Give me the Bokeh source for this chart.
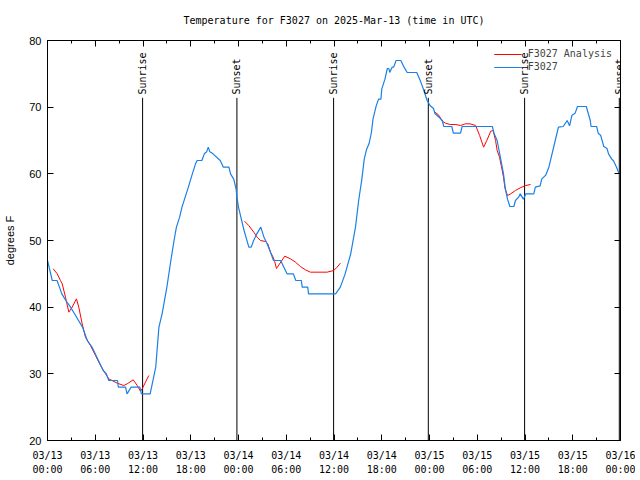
import math
from bokeh.plotting import figure
from bokeh.models import (Range1d, FixedTicker, LinearAxis, Legend, LegendItem, LabelSet,
                          ColumnDataSource, CustomLabelingPolicy)
from bokeh.embed import file_html
from bokeh.resources import INLINE
from bokeh.core.properties import value

NaN = float("nan")

# hours since 2025-03-13 00:00 UTC
obs_hours = [0.0, 0.6, 1.2, 1.5, 1.8, 2.3, 2.9, 3.3, 3.9, 4.4, 5.0, 5.6, 6.0, 6.4, 7.0, 7.4, 7.7,
             8.8, 8.9, 9.8, 10.0, 10.5, 11.6, 11.8, 12.9, 13.6, 14.0, 14.4, 15.0, 15.5, 15.9,
             16.2, 16.6, 16.9, 17.3, 17.7, 18.2, 18.6, 18.8, 19.4, 19.7, 20.0, 20.2, 20.4, 20.8,
             21.7, 22.1, 22.8, 23.0, 23.4, 23.7, 23.8, 24.0, 24.2, 24.7, 25.3, 25.6, 25.9, 26.3,
             26.8, 27.2, 27.6, 28.0, 28.4, 29.3, 29.7, 30.1, 30.9, 31.2, 31.9, 32.0, 32.7, 32.8,
             36.2, 36.8, 37.4, 38.1, 38.7, 39.1, 39.5, 39.8, 40.1, 40.4, 40.7, 40.9, 41.3, 41.6,
             41.9, 42.0, 42.4, 42.7, 42.9, 43.0, 43.3, 43.5, 43.8, 44.4, 44.8, 45.2, 46.4, 46.9,
             47.3, 47.7, 48.1, 48.5, 48.7, 49.2, 49.6, 49.8, 50.8, 51.0, 51.9, 52.1, 55.9, 56.1,
             56.5, 56.9, 57.3, 57.5, 57.8, 58.1, 58.6, 58.8, 59.2, 59.4, 59.8, 60.1, 61.1, 61.3,
             61.9, 62.1, 62.6, 63.0, 63.4, 63.8, 64.2, 64.8, 65.3, 65.6, 65.9, 66.3, 66.6, 67.7,
             68.2, 68.3, 69.0, 69.2, 69.5, 69.9, 70.3, 70.5, 70.9, 71.1, 71.5, 71.8, 72.0]
obs_temp = [47, 44, 44, 43, 42, 41, 40, 39.2, 38, 37, 35, 34, 33, 32, 30.5, 30, 29,
            29, 28, 28, 27, 28, 28, 27, 27, 31, 37, 39, 43, 47, 50,
            52, 53.5, 55, 56.5, 58, 60, 61.5, 62, 62, 63, 63.3, 64, 63.3, 63,
            62, 61, 61, 60, 59.2, 57.7, 56.5, 55, 54, 51.5, 49, 49, 50, 51,
            52, 50.5, 49.5, 48.3, 47, 47, 46, 45, 45, 44, 44, 43, 43, 42,
            42, 43, 45, 48, 52, 56, 59.2, 62.2, 63.7, 64.5, 66.2, 68.2, 70.2, 71.2,
            71.2, 72.7, 74.2, 75.8, 75.8, 75.2, 76, 76, 77, 77, 76, 75.2, 75.2, 73.8,
            72.5, 71, 70.2, 69.8, 69, 68.5, 68, 67.1, 67.1, 66.1, 66.1, 67.1, 67.1, 66.1,
            65, 62.5, 60, 58, 56.2, 55.1, 55.1, 56, 56.5, 57, 56.2, 57, 57, 58,
            58.2, 59.2, 59.8, 61, 63, 65, 67, 67.1, 68, 67.2, 68.8, 69.1, 70.1, 70.1,
            68, 67.1, 67.1, 66.1, 65.8, 64.1, 63.8, 63, 62.2, 62, 61, 60.1, 60]

ana_hours = [0.72, 1.22, 1.63, 1.85, 2.26, 2.68, 3.10, 3.64, 3.93, 4.36, 4.77, 5.40, 6.03, 6.66,
             7.29, 7.70, 8.76, 9.59, 10.01, 10.77, 11.27, 11.68, 11.90, 12.31, 12.73, NaN,
             24.75, 25.29, 25.92, 26.34, 26.76, 27.39, 27.68, 28.02, 28.35, 28.56, 28.77, 29.81,
             30.53, 31.16, 31.78, 32.41, 33.04, 35.14, 35.97, 36.39, 36.81, NaN,
             48.7, 49.2, 49.6, 50.0, 50.6, 51.3, 51.9, 52.5, 53.1, 53.8, 54.3, 54.8, 55.2, 55.7,
             56.0, 56.3, 56.5, 56.8, 57.1, 57.3, 57.5, 57.8, 58.2, 58.8, 59.4, 60.1, 60.7]
ana_temp = [45.75, 45, 44, 43.5, 41.5, 39.25, 40, 41.25, 40, 37.5, 35.5, 34.25, 32.75, 31.25,
            30, 29.25, 28.6, 28.25, 28.5, 29.1, 28.25, 27.4, 27.75, 28.75, 29.75, NaN,
            52.9, 52.25, 51.25, 50.5, 50, 49.85, 49.5, 48.25, 47.5, 46.8, 45.8, 47.65,
            47.25, 46.75, 46.1, 45.6, 45.25, 45.25, 45.5, 46, 46.6, NaN,
            69.25, 68.75, 67.9, 67.6, 67.4, 67.4, 67.25, 67.5, 67.5, 67.25, 65.75, 64, 65, 66.4,
            66.5, 65, 63.5, 62.5, 60.75, 59.5, 57.75, 56.75, 57, 57.5, 57.9, 58.25, 58.4]

sun_hours = [11.95, 23.8, 35.95, 47.85, 59.95, 71.85]
sun_labels = ["Sunrise", "Sunset", "Sunrise", "Sunset", "Sunrise", "Sunset"]

x_ticks = [0, 6, 12, 18, 24, 30, 36, 42, 48, 54, 60, 66, 72]
x_minor = [3, 9, 15, 21, 27, 33, 39, 45, 51, 57, 63, 69]
x_tick_labels = ["03/13\n00:00", "03/13\n06:00", "03/13\n12:00", "03/13\n18:00",
                 "03/14\n00:00", "03/14\n06:00", "03/14\n12:00", "03/14\n18:00",
                 "03/15\n00:00", "03/15\n06:00", "03/15\n12:00", "03/15\n18:00",
                 "03/16\n00:00"]
y_ticks = [20, 30, 40, 50, 60, 70, 80]

MONO = "DejaVu Sans Mono"
SANS = "Liberation Sans"
BLUE = "#1a80e6"
RED = "#ff0000"

p = figure(width=635, height=477, output_backend="svg", toolbar_location=None,
           x_range=Range1d(0, 72), y_range=Range1d(20, 80),
           min_border_left=47, min_border_right=12, min_border_top=40, min_border_bottom=32,
           title="Temperature for F3027 on 2025-Mar-13 (time in UTC)")
p.title.align = "center"
p.title.text_font = MONO
p.title.text_font_size = "10px"
p.title.text_font_style = "normal"
p.title.text_color = "black"
p.title.standoff = 8
p.grid.visible = False
p.outline_line_color = "black"
p.outline_line_width = 1
p.background_fill_color = "white"
p.border_fill_color = "white"

xt = FixedTicker(ticks=x_ticks, minor_ticks=x_minor)
yt = FixedTicker(ticks=y_ticks, minor_ticks=[])

xa = p.xaxis[0]
xa.ticker = xt
xa.major_label_overrides = {t: lab for t, lab in zip(x_ticks, x_tick_labels)}
ya = p.yaxis[0]
ya.ticker = yt
ya.axis_label = "degrees F"
ya.axis_label_text_font = SANS
ya.axis_label_text_font_size = "11px"
ya.axis_label_text_font_style = "normal"
ya.axis_label_text_color = "black"
ya.axis_label_standoff = 10

for ax in (xa, ya):
    ax.major_tick_in = 6
    ax.major_tick_out = 0
    ax.minor_tick_in = 3
    ax.minor_tick_out = 0
    ax.axis_line_color = "black"
    ax.major_tick_line_color = "black"
    ax.minor_tick_line_color = "black"
    ax.major_label_text_color = "black"
xa.major_label_standoff = 9
ya.major_label_standoff = 6
xa.major_label_text_font = MONO
xa.major_label_text_font_size = "10px"
xa.major_label_text_line_height = 1.3
ya.major_label_text_font = SANS
ya.major_label_text_font_size = "11px"

no_labels = "for (const i of indices) { indices.unset(i) }\nreturn indices"
top = LinearAxis(ticker=xt, major_label_policy=CustomLabelingPolicy(code=no_labels),
                 major_label_standoff=0,
                 major_tick_in=6, major_tick_out=0, minor_tick_in=3, minor_tick_out=0)
right = LinearAxis(ticker=yt, major_label_policy=CustomLabelingPolicy(code=no_labels),
                   major_label_standoff=0,
                   major_tick_in=6, major_tick_out=0, minor_tick_in=3, minor_tick_out=0)
p.add_layout(top, "above")
p.add_layout(right, "right")

sun_src = ColumnDataSource(data=dict(x=sun_hours, text=sun_labels))
p.segment(x0="x", y0=20, x1="x", y1=71.4, source=sun_src, line_color="black", line_width=1)
p.add_layout(LabelSet(x="x", y=71.9, text="text", source=sun_src, angle=math.pi / 2,
                      text_align="left", text_baseline="middle", text_font=value(MONO),
                      text_font_size=value("10px"), text_color="black"))

r_ana = p.line(ana_hours, ana_temp, line_color=RED, line_width=1)
r_obs = p.line(obs_hours, obs_temp, line_color=BLUE, line_width=1.2)

legend = Legend(items=[LegendItem(label="F3027 Analysis", renderers=[r_ana]),
                       LegendItem(label="F3027", renderers=[r_obs])],
                location="top_right", background_fill_alpha=0, border_line_alpha=0,
                label_text_font=MONO, label_text_font_size="10px",
                glyph_width=28, glyph_height=10, label_height=10, spacing=2,
                padding=4, margin=4, label_standoff=6)
p.add_layout(legend)

open("out.html", "w").write(file_html(p, INLINE))
